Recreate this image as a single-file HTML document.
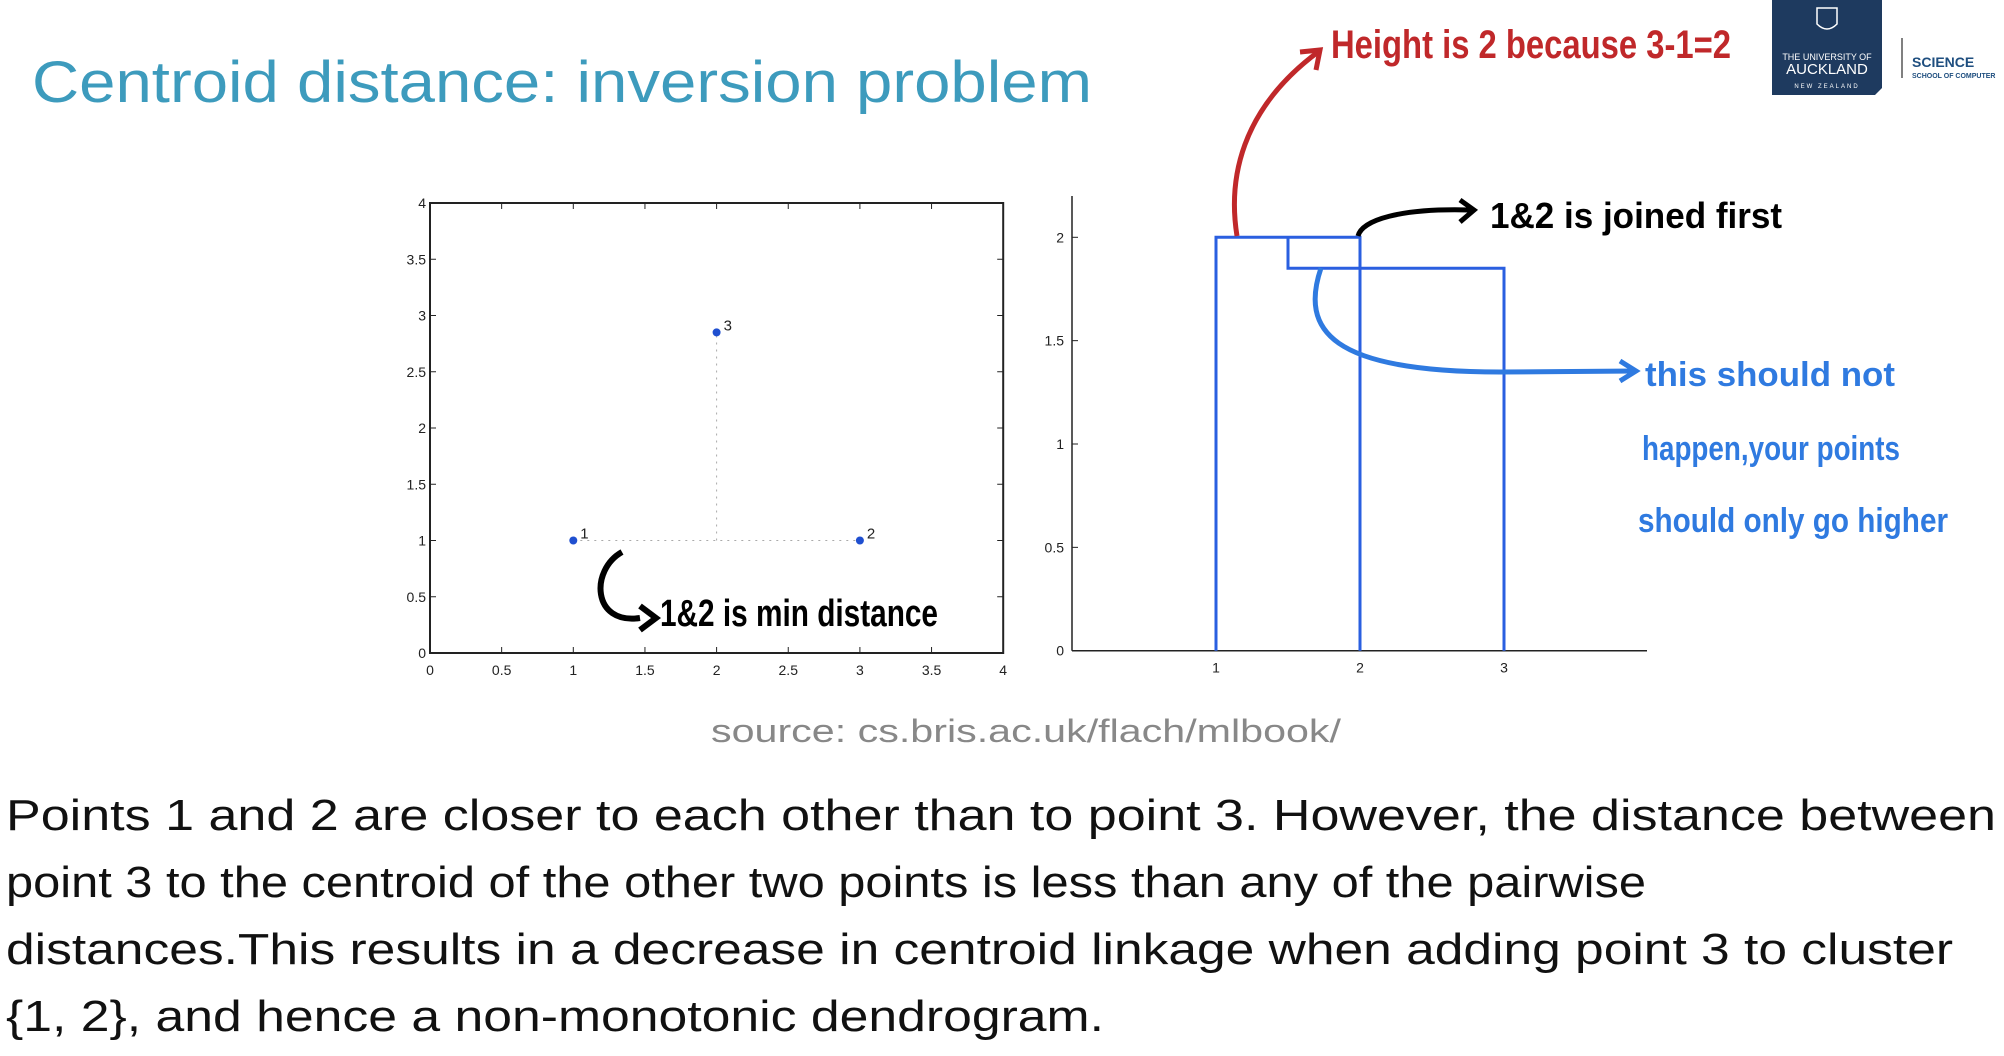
<!DOCTYPE html>
<html><head><meta charset="utf-8"><style>
html,body{margin:0;padding:0;background:#fff;}
svg{display:block;}
text{font-family:"Liberation Sans",sans-serif;}
</style></head><body>
<svg id="page" width="2004" height="1056" viewBox="0 0 2004 1056" xmlns="http://www.w3.org/2000/svg">
<text x="32" y="102" font-size="58" fill="#3d9bbd" textLength="1060" lengthAdjust="spacingAndGlyphs">Centroid distance: inversion problem</text>
<g>
<path d="M1772 0 H1882 V88 L1875 95 H1772 Z" fill="#1e3a5f"/>
<path d="M1817 8 h20 v16 q-10 10 -20 0 z" fill="none" stroke="#fff" stroke-width="1.5"/>
<text x="1827" y="60" font-size="9" fill="#fff" text-anchor="middle">THE UNIVERSITY OF</text>
<text x="1827" y="74" font-size="15" fill="#fff" text-anchor="middle">AUCKLAND</text>
<text x="1827" y="88" font-size="6" fill="#fff" text-anchor="middle" letter-spacing="2">NEW ZEALAND</text>
<line x1="1902" y1="38" x2="1902" y2="78" stroke="#555" stroke-width="1.5"/>
<text x="1912" y="67" font-size="14" font-weight="bold" fill="#1e4e7f">SCIENCE</text>
<text x="1912" y="78" font-size="7" font-weight="bold" fill="#1e4e7f">SCHOOL OF COMPUTER</text>
</g>
<g id="scatter"></g>
<g id="dendro"></g>
<text x="1026" y="742" font-size="32" fill="#888" text-anchor="middle" textLength="630" lengthAdjust="spacingAndGlyphs">source:  cs.bris.ac.uk/flach/mlbook/</text>
<g font-size="44" fill="#111">
<text x="6" y="830" textLength="1990" lengthAdjust="spacingAndGlyphs">Points 1 and 2 are closer to each other than to point 3. However, the distance between</text>
<text x="6" y="897" textLength="1640" lengthAdjust="spacingAndGlyphs">point 3 to the centroid of the other two points is less than any of the pairwise</text>
<text x="6" y="964" textLength="1947" lengthAdjust="spacingAndGlyphs">distances.This results in a decrease in centroid linkage when adding point 3 to cluster</text>
<text x="6" y="1031" textLength="1098" lengthAdjust="spacingAndGlyphs">{1, 2}, and hence a non-monotonic dendrogram.</text>
</g>
<g>
<path d="M1237 236 C1228 180 1240 110 1318 52" fill="none" stroke="#c0282a" stroke-width="5"/>
<path d="M1300 52 L1320 50 L1316 70" fill="none" stroke="#c0282a" stroke-width="5"/>
<text x="1331" y="58" font-size="40" font-weight="bold" fill="#c0282a" textLength="400" lengthAdjust="spacingAndGlyphs">Height is 2 because 3-1=2</text>
<path d="M1358 236 C1362 220 1400 208 1470 210" fill="none" stroke="#000" stroke-width="5"/>
<path d="M1460 200 L1474 210 L1460 222" fill="none" stroke="#000" stroke-width="5"/>
<text x="1490" y="228" font-size="36" font-weight="bold" fill="#000" textLength="292" lengthAdjust="spacingAndGlyphs">1&amp;2 is joined first</text>
<path d="M1321 268 C1300 330 1330 372 1500 372 L1636 371" fill="none" stroke="#2f7ae0" stroke-width="5"/>
<path d="M1620 361 L1636 371 L1620 381" fill="none" stroke="#2f7ae0" stroke-width="5"/>
<g font-size="34" font-weight="bold" fill="#2f7ae0">
<text x="1645" y="386" textLength="250" lengthAdjust="spacingAndGlyphs">this should not</text>
<text x="1642" y="460" textLength="258" lengthAdjust="spacingAndGlyphs">happen,your points</text>
<text x="1638" y="532" textLength="310" lengthAdjust="spacingAndGlyphs">should only go higher</text>
</g>
<path d="M622 552 C590 570 592 625 640 618" fill="none" stroke="#000" stroke-width="6"/>
<path d="M640 606 L656 618 L640 630" fill="none" stroke="#000" stroke-width="6"/>
<text x="660" y="626" font-size="38" font-weight="bold" fill="#000" textLength="278" lengthAdjust="spacingAndGlyphs">1&amp;2 is min distance</text>
</g>
</svg>
<script>
const NS="http://www.w3.org/2000/svg";
const pointLabels=["1","2","3"];
const pointX=[1,3,2];
const pointY=[1,1,2.85];
const scatterTicks=[0,0.5,1,1.5,2,2.5,3,3.5,4];
const leafLabels=["1","2","3"];
const mergeHeights=[2.0,1.85];
const dendroYTicks=[0,0.5,1,1.5,2];
function mk(p,t,a){const e=document.createElementNS(NS,t);for(const k in a)e.setAttribute(k,a[k]);p.appendChild(e);return e;}
// scatter
const sx=v=>430+v*143.3, sy=v=>653-v*112.5;
const sg=document.getElementById('scatter');
const frame=mk(sg,'rect',{x:sx(0),y:sy(4),width:sx(4)-sx(0),height:sy(0)-sy(4),fill:'none',stroke:'#222','stroke-width':2});


scatterTicks.forEach(t=>{
 mk(sg,'line',{x1:sx(t),y1:sy(0),x2:sx(t),y2:sy(0)-6,stroke:'#222'});
 mk(sg,'line',{x1:sx(t),y1:sy(4),x2:sx(t),y2:sy(4)+6,stroke:'#222'});
 mk(sg,'line',{x1:sx(0),y1:sy(t),x2:sx(0)+6,y2:sy(t),stroke:'#222'});
 mk(sg,'line',{x1:sx(4),y1:sy(t),x2:sx(4)-6,y2:sy(t),stroke:'#222'});
 const xl=mk(sg,'text',{x:sx(t),y:sy(0)+22,'font-size':14,'text-anchor':'middle',fill:'#222'});xl.textContent=t;
 
 
 const yl=mk(sg,'text',{x:sx(0)-4,y:sy(t)+5,'font-size':14,'text-anchor':'end',fill:'#222'});yl.textContent=t;
 
 
});
const cx=(pointX[0]+pointX[1])/2, cy=(pointY[0]+pointY[1])/2;
mk(sg,'line',{x1:sx(pointX[0]),y1:sy(pointY[0]),x2:sx(pointX[1]),y2:sy(pointY[1]),stroke:'#aaa','stroke-dasharray':'2 5'});
mk(sg,'line',{x1:sx(cx),y1:sy(cy),x2:sx(pointX[2]),y2:sy(pointY[2]),stroke:'#aaa','stroke-dasharray':'2 5'});
pointX.forEach((x,i)=>{
 const c=mk(sg,'circle',{cx:sx(x),cy:sy(pointY[i]),r:4,fill:'#1f4fd0'});
 
 
 const l=mk(sg,'text',{x:sx(x)+7,y:sy(pointY[i])-2,'font-size':15,fill:'#222'});l.textContent=pointLabels[i];
 
 
});
// dendrogram
const dy=v=>650.7-v*206.7;
const lx=i=>1216+i*144;
const dg=document.getElementById('dendro');
mk(dg,'line',{x1:1072,y1:196,x2:1072,y2:dy(0),stroke:'#222','stroke-width':1.5});
mk(dg,'line',{x1:1072,y1:dy(0),x2:1647,y2:dy(0),stroke:'#222','stroke-width':1.5});
dendroYTicks.forEach(t=>{
 mk(dg,'line',{x1:1072,y1:dy(t),x2:1078,y2:dy(t),stroke:'#222'});
 const l=mk(dg,'text',{x:1064,y:dy(t)+5,'font-size':14,'text-anchor':'end',fill:'#222'});l.textContent=t;
 
 
});
leafLabels.forEach((s,i)=>{
 const l=mk(dg,'text',{x:lx(i),y:dy(0)+22,'font-size':14,'text-anchor':'middle',fill:'#222'});l.textContent=s;
 
 
});
const h1=mergeHeights[0], h2=mergeHeights[1];
const m=(lx(0)+lx(1))/2;
const d1=`M${lx(0)} ${dy(0)} V${dy(h1)} H${lx(1)} V${dy(0)}`;
const d2=`M${m} ${dy(h1)} V${dy(h2)} H${lx(2)} V${dy(0)}`;
const l1=mk(dg,'path',{d:d1,fill:'none',stroke:'#2a5fe0','stroke-width':3});


const l2=mk(dg,'path',{d:d2,fill:'none',stroke:'#2a5fe0','stroke-width':3});


</script>
</body></html>
